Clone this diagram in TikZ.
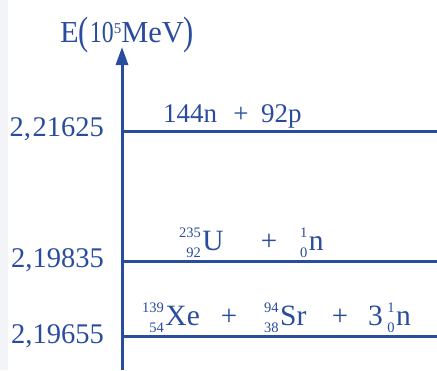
\documentclass[tikz,border=0pt]{standalone}
\usepackage{fontspec}
\usepackage{graphicx}
\setmainfont{Liberation Serif}
\usetikzlibrary{arrows.meta}
\definecolor{ink}{RGB}{41,76,157}
\definecolor{strip}{RGB}{242,244,248}
\newlength\isow
\newcommand{\supf}{\fontsize{14.5}{14.5}\selectfont}
\newcommand{\iso}[3]{\settowidth\isow{\supf #1}\setbox0\hbox{\supf #2}\ifdim\wd0>\isow\isow=\wd0\fi\makebox[\isow][r]{\raisebox{13pt}{\supf #1}}\kern-\isow\makebox[\isow][r]{\raisebox{-7pt}{\supf #2}}\kern1.5pt #3}
\begin{document}
\begin{tikzpicture}[x=1pt,y=-1pt,
  every node/.style={inner sep=0pt,text=ink},
  lbl/.style={font=\fontsize{28.5}{30}\selectfont, anchor=base east},
  rx/.style={font=\fontsize{29.5}{31}\selectfont, anchor=base west},
  pl/.style={font=\fontsize{29}{31}\selectfont, anchor=base},
  lvl/.style={draw=ink, line width=3pt}]
\useasboundingbox (0,0) rectangle (437,370);
\fill[strip] (0,0) rectangle (8,370);
% axis
\coordinate (bot) at (122,370);
\coordinate (top) at (122,47);
\draw[lvl, -{Triangle[length=18pt,width=12pt]}] (bot) -- (top);
% title
\node[anchor=base west, font=\fontsize{30.5}{32}\selectfont] (title) at (60,42)
  {E\raisebox{-2.5pt}{\scalebox{1}[1.3]{(}}\kern1pt\scalebox{0.78}[1]{10}\raisebox{9pt}{\fontsize{15}{15}\selectfont 5}MeV\raisebox{-2.5pt}{\scalebox{1}[1.3]{)}}};
% levels
\coordinate (l1a) at (122,131); \coordinate (l1b) at (437,131);
\coordinate (l2a) at (122,261); \coordinate (l2b) at (437,261);
\coordinate (l3a) at (122,336); \coordinate (l3b) at (437,336);
\draw[lvl] (l1a) -- (l1b);
\draw[lvl] (l2a) -- (l2b);
\draw[lvl] (l3a) -- (l3b);
% value labels
\node[lbl] (v1) at (104,136) {2,\kern1.5pt21625};
\node[lbl] (v2) at (104,267) {2,19835};
\node[lbl] (v3) at (104,343) {2,19655};
% row 1
\node[rx, font=\fontsize{27}{29}\selectfont] (r1a) at (163,122) {144n};
\node[pl, font=\fontsize{27}{29}\selectfont] (r1p) at (241,122) {+};
\node[rx, font=\fontsize{27}{29}\selectfont] (r1b) at (261,122) {92p};
% row 2
\node[rx] (r2a) at (179,250) {\iso{235}{92}{U}};
\node[pl] (r2p) at (269,250) {+};
\node[rx] (r2b) at (300,250) {\iso{1}{0}{n}};
% row 3
\node[rx] (r3a) at (142,325) {\iso{139}{54}{Xe}};
\node[pl] (r3p) at (229,325) {+};
\node[rx] (r3b) at (264,325) {\iso{94}{38}{Sr}};
\node[pl] (r3q) at (340,325) {+};
\node[rx] (r3c) at (368,325) {3\kern4.5pt\iso{1}{0}{n}};
\end{tikzpicture}
\end{document}
